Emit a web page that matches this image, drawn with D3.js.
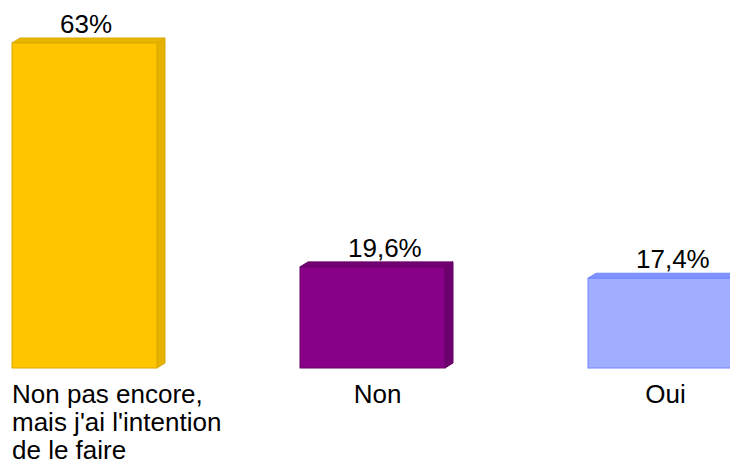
<!DOCTYPE html>
<html>
<head>
<meta charset="utf-8">
<script src="https://cdn.jsdelivr.net/npm/d3@7"></script>
<style>
html,body{margin:0;padding:0;background:#fff;overflow:hidden;}
svg{display:block;}
text{font-family:"Liberation Sans", Arial, sans-serif;fill:#000;}
</style>
</head>
<body>
<svg id="chart" width="730" height="468"></svg>
<script>
const categories = ["Non pas encore, mais j'ai l'intention de le faire", "Non", "Oui"];
const categoryLines = [["Non pas encore,", "mais j'ai l'intention", "de le faire"], ["Non"], ["Oui"]];
const values = [63, 19.6, 17.4];
const valueLabels = ["63%", "19,6%", "17,4%"];
const frontColors = ["#FFC600", "#880088", "#A1AEFF"];
const sideColors = ["#E6B200", "#6C006C", "#8A9BFF"];
const topColors = ["#E8B600", "#720072", "#7F92FF"];
const strokeColors = ["#D9A800", "#660066", "#6F86FF"];

const svg = d3.select("#chart");
const baseY = 368;
const x = d3.scaleBand().domain(categories).range([12, 733]).paddingInner(143/288).paddingOuter(0);
const y = d3.scaleLinear().domain([0, 63]).range([baseY, 43]);
const dx = 8, dy = 5;

const g = svg.append("g");
const bars = g.selectAll("g.bar").data(values).join("g").attr("class","bar");

// side face
bars.append("path")
  .attr("d", (d,i) => {
    const x0 = x(categories[i]) + x.bandwidth(), t = y(d);
    return `M${x0},${t}L${x0+dx},${t-dy}L${x0+dx},${baseY-dy}L${x0},${baseY}Z`;
  })
  .attr("fill", (d,i) => sideColors[i])
  .attr("stroke", (d,i) => strokeColors[i]).attr("stroke-width", 1);
// top face
bars.append("path")
  .attr("d", (d,i) => {
    const x0 = x(categories[i]), x1 = x0 + x.bandwidth(), t = y(d);
    return `M${x0},${t}L${x0+dx},${t-dy}L${x1+dx},${t-dy}L${x1},${t}Z`;
  })
  .attr("fill", (d,i) => topColors[i])
  .attr("stroke", (d,i) => strokeColors[i]).attr("stroke-width", 1);
// front face
bars.append("rect")
  .attr("x", (d,i) => x(categories[i]))
  .attr("y", d => y(d))
  .attr("width", x.bandwidth())
  .attr("height", d => baseY - y(d))
  .attr("fill", (d,i) => frontColors[i])
  .attr("stroke", (d,i) => strokeColors[i]).attr("stroke-width", 1);

// value labels
g.selectAll("text.val").data(values).join("text").attr("class","val")
  .attr("x", (d,i) => x(categories[i]) + 48)
  .attr("y", d => y(d) - 10)
  .attr("font-size", 26)
  .text((d,i) => valueLabels[i]);

// category labels
categories.forEach((c, i) => {
  const t = g.append("text").attr("font-size", 26);
  categoryLines[i].forEach((ln, j) => {
    t.append("tspan").attr("y", 403 + j*28).text(ln);
  });
  const tspans = t.selectAll("tspan").nodes();
  const w = d3.max(tspans, n => n.getComputedTextLength());
  const cx = x(c) + x.bandwidth()/2 + dx/2 + 1;
  const left = Math.max(cx - w/2, x(c));
  if (categoryLines[i].length > 1) {
    t.selectAll("tspan").attr("x", left);
  } else {
    t.selectAll("tspan").attr("x", cx).attr("text-anchor", "middle");
  }
});
</script>
</body>
</html>
